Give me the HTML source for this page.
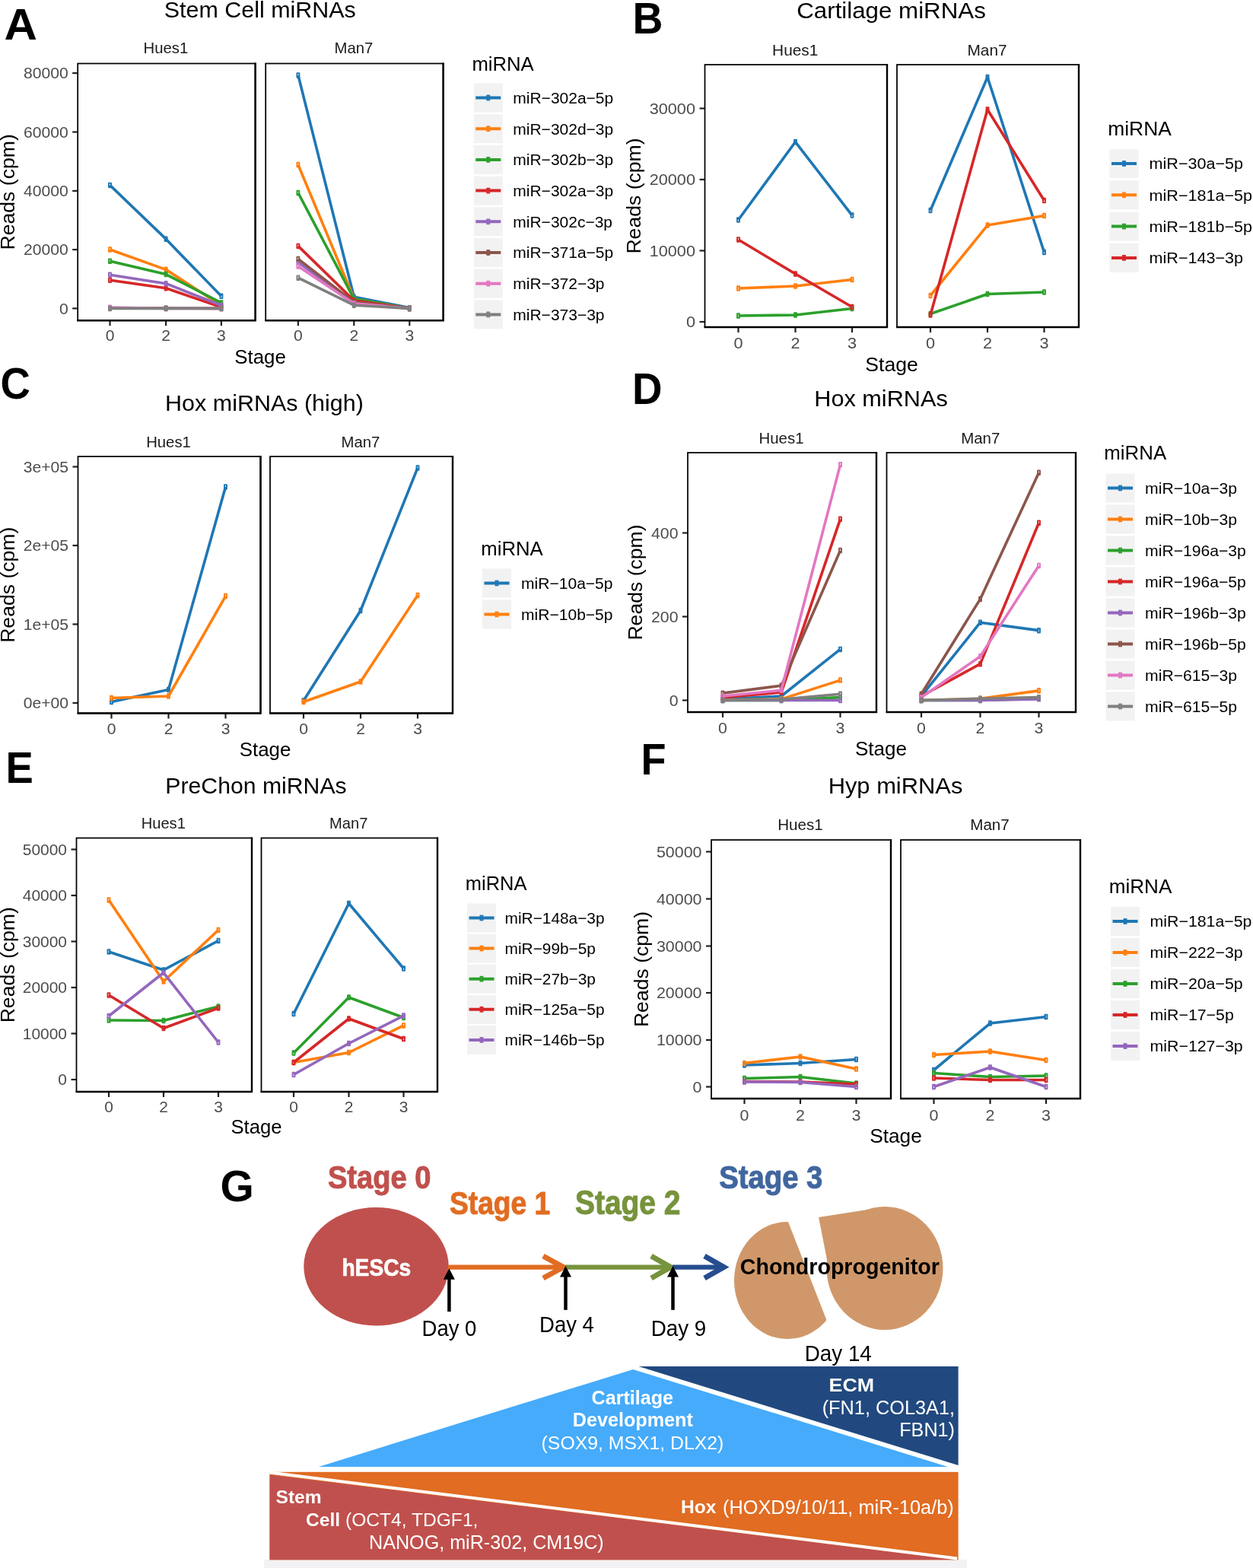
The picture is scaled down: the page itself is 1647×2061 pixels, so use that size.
<!DOCTYPE html>
<html><head><meta charset="utf-8"><title>Figure</title>
<style>html,body{margin:0;padding:0;background:#fff;}svg{display:block;}</style></head>
<body><svg width="1647" height="2061" viewBox="0 0 1647 2061" font-family='"Liberation Sans", Arial, Helvetica, sans-serif'>
<rect width="1647" height="2061" fill="#fff"/>
<text transform="translate(5.50,52.00) scale(1.055,1)" font-size="57" font-weight="bold" fill="#000">A</text>
<text transform="translate(341.80,23.00) scale(1.015,1)" font-size="30" text-anchor="middle" fill="#000">Stem Cell miRNAs</text>
<text transform="translate(217.90,70.30) scale(1.015,1)" font-size="20" text-anchor="middle" fill="#1a1a1a">Hues1</text>
<line x1="95.20" y1="96.10" x2="102.20" y2="96.10" stroke="#222" stroke-width="2.2"/>
<text transform="translate(89.70,103.40) scale(1.015,1)" font-size="20.8" text-anchor="end" fill="#4d4d4d">80000</text>
<line x1="95.20" y1="173.50" x2="102.20" y2="173.50" stroke="#222" stroke-width="2.2"/>
<text transform="translate(89.70,180.80) scale(1.015,1)" font-size="20.8" text-anchor="end" fill="#4d4d4d">60000</text>
<line x1="95.20" y1="250.90" x2="102.20" y2="250.90" stroke="#222" stroke-width="2.2"/>
<text transform="translate(89.70,258.20) scale(1.015,1)" font-size="20.8" text-anchor="end" fill="#4d4d4d">40000</text>
<line x1="95.20" y1="328.10" x2="102.20" y2="328.10" stroke="#222" stroke-width="2.2"/>
<text transform="translate(89.70,335.40) scale(1.015,1)" font-size="20.8" text-anchor="end" fill="#4d4d4d">20000</text>
<line x1="95.20" y1="405.40" x2="102.20" y2="405.40" stroke="#222" stroke-width="2.2"/>
<text transform="translate(89.70,412.70) scale(1.015,1)" font-size="20.8" text-anchor="end" fill="#4d4d4d">0</text>
<line x1="144.50" y1="421.20" x2="144.50" y2="428.20" stroke="#222" stroke-width="2.2"/>
<text transform="translate(144.50,447.50) scale(1.015,1)" font-size="20.8" text-anchor="middle" fill="#4d4d4d">0</text>
<line x1="218.10" y1="421.20" x2="218.10" y2="428.20" stroke="#222" stroke-width="2.2"/>
<text transform="translate(218.10,447.50) scale(1.015,1)" font-size="20.8" text-anchor="middle" fill="#4d4d4d">2</text>
<line x1="290.90" y1="421.20" x2="290.90" y2="428.20" stroke="#222" stroke-width="2.2"/>
<text transform="translate(290.90,447.50) scale(1.015,1)" font-size="20.8" text-anchor="middle" fill="#4d4d4d">3</text>
<g fill="none" stroke-width="3.6" stroke-linejoin="round">
<polyline points="144.50,243.40 218.10,314.16 290.90,389.32" stroke="#1f77b4"/>
<rect x="143.00" y="240.60" width="3.0" height="5.6" stroke="#1f77b4" stroke-width="1.9"/>
<rect x="216.60" y="311.36" width="3.0" height="5.6" stroke="#1f77b4" stroke-width="1.9"/>
<rect x="289.40" y="386.52" width="3.0" height="5.6" stroke="#1f77b4" stroke-width="1.9"/>
<polyline points="144.50,328.07 218.10,354.37 290.90,401.53" stroke="#ff7f0e"/>
<rect x="143.00" y="325.27" width="3.0" height="5.6" stroke="#ff7f0e" stroke-width="1.9"/>
<rect x="216.60" y="351.57" width="3.0" height="5.6" stroke="#ff7f0e" stroke-width="1.9"/>
<rect x="289.40" y="398.73" width="3.0" height="5.6" stroke="#ff7f0e" stroke-width="1.9"/>
<polyline points="144.50,343.15 218.10,360.55 290.90,398.05" stroke="#2ca02c"/>
<rect x="143.00" y="340.35" width="3.0" height="5.6" stroke="#2ca02c" stroke-width="1.9"/>
<rect x="216.60" y="357.75" width="3.0" height="5.6" stroke="#2ca02c" stroke-width="1.9"/>
<rect x="289.40" y="395.25" width="3.0" height="5.6" stroke="#2ca02c" stroke-width="1.9"/>
<polyline points="144.50,368.28 218.10,378.72 290.90,403.85" stroke="#d62728"/>
<rect x="143.00" y="365.48" width="3.0" height="5.6" stroke="#d62728" stroke-width="1.9"/>
<rect x="216.60" y="375.92" width="3.0" height="5.6" stroke="#d62728" stroke-width="1.9"/>
<rect x="289.40" y="401.05" width="3.0" height="5.6" stroke="#d62728" stroke-width="1.9"/>
<polyline points="144.50,361.32 218.10,372.69 290.90,401.53" stroke="#9467bd"/>
<rect x="143.00" y="358.52" width="3.0" height="5.6" stroke="#9467bd" stroke-width="1.9"/>
<rect x="216.60" y="369.89" width="3.0" height="5.6" stroke="#9467bd" stroke-width="1.9"/>
<rect x="289.40" y="398.73" width="3.0" height="5.6" stroke="#9467bd" stroke-width="1.9"/>
<polyline points="144.50,404.63 218.10,405.01 290.90,405.40" stroke="#8c564b"/>
<rect x="143.00" y="401.83" width="3.0" height="5.6" stroke="#8c564b" stroke-width="1.9"/>
<rect x="216.60" y="402.21" width="3.0" height="5.6" stroke="#8c564b" stroke-width="1.9"/>
<rect x="289.40" y="402.60" width="3.0" height="5.6" stroke="#8c564b" stroke-width="1.9"/>
<polyline points="144.50,404.24 218.10,405.40 290.90,405.40" stroke="#e377c2"/>
<rect x="143.00" y="401.44" width="3.0" height="5.6" stroke="#e377c2" stroke-width="1.9"/>
<rect x="216.60" y="402.60" width="3.0" height="5.6" stroke="#e377c2" stroke-width="1.9"/>
<rect x="289.40" y="402.60" width="3.0" height="5.6" stroke="#e377c2" stroke-width="1.9"/>
<polyline points="144.50,405.40 218.10,405.40 290.90,405.40" stroke="#7f7f7f"/>
<rect x="143.00" y="402.60" width="3.0" height="5.6" stroke="#7f7f7f" stroke-width="1.9"/>
<rect x="216.60" y="402.60" width="3.0" height="5.6" stroke="#7f7f7f" stroke-width="1.9"/>
<rect x="289.40" y="402.60" width="3.0" height="5.6" stroke="#7f7f7f" stroke-width="1.9"/>
</g>
<rect x="102.20" y="83.50" width="233.40" height="337.70" fill="none" stroke="#000" stroke-width="1.75"/>
<path d="M335.60,82.60 V421.20 H101.30" fill="none" stroke="#000" stroke-width="2.4"/>
<text transform="translate(464.90,70.30) scale(1.015,1)" font-size="20" text-anchor="middle" fill="#1a1a1a">Man7</text>
<line x1="391.90" y1="421.20" x2="391.90" y2="428.20" stroke="#222" stroke-width="2.2"/>
<text transform="translate(391.90,447.50) scale(1.015,1)" font-size="20.8" text-anchor="middle" fill="#4d4d4d">0</text>
<line x1="465.30" y1="421.20" x2="465.30" y2="428.20" stroke="#222" stroke-width="2.2"/>
<text transform="translate(465.30,447.50) scale(1.015,1)" font-size="20.8" text-anchor="middle" fill="#4d4d4d">2</text>
<line x1="538.30" y1="421.20" x2="538.30" y2="428.20" stroke="#222" stroke-width="2.2"/>
<text transform="translate(538.30,447.50) scale(1.015,1)" font-size="20.8" text-anchor="middle" fill="#4d4d4d">3</text>
<g fill="none" stroke-width="3.6" stroke-linejoin="round">
<polyline points="391.90,98.88 465.30,390.21 538.30,404.63" stroke="#1f77b4"/>
<rect x="390.40" y="96.08" width="3.0" height="5.6" stroke="#1f77b4" stroke-width="1.9"/>
<rect x="463.80" y="387.41" width="3.0" height="5.6" stroke="#1f77b4" stroke-width="1.9"/>
<rect x="536.80" y="401.83" width="3.0" height="5.6" stroke="#1f77b4" stroke-width="1.9"/>
<polyline points="391.90,216.57 465.30,392.80 538.30,405.40" stroke="#ff7f0e"/>
<rect x="390.40" y="213.77" width="3.0" height="5.6" stroke="#ff7f0e" stroke-width="1.9"/>
<rect x="463.80" y="390.00" width="3.0" height="5.6" stroke="#ff7f0e" stroke-width="1.9"/>
<rect x="536.80" y="402.60" width="3.0" height="5.6" stroke="#ff7f0e" stroke-width="1.9"/>
<polyline points="391.90,253.50 465.30,392.80 538.30,405.40" stroke="#2ca02c"/>
<rect x="390.40" y="250.70" width="3.0" height="5.6" stroke="#2ca02c" stroke-width="1.9"/>
<rect x="463.80" y="390.00" width="3.0" height="5.6" stroke="#2ca02c" stroke-width="1.9"/>
<rect x="536.80" y="402.60" width="3.0" height="5.6" stroke="#2ca02c" stroke-width="1.9"/>
<polyline points="391.90,323.40 465.30,395.00 538.30,405.40" stroke="#d62728"/>
<rect x="390.40" y="320.60" width="3.0" height="5.6" stroke="#d62728" stroke-width="1.9"/>
<rect x="463.80" y="392.20" width="3.0" height="5.6" stroke="#d62728" stroke-width="1.9"/>
<rect x="536.80" y="402.60" width="3.0" height="5.6" stroke="#d62728" stroke-width="1.9"/>
<polyline points="391.90,344.70 465.30,397.67 538.30,405.40" stroke="#9467bd"/>
<rect x="390.40" y="341.90" width="3.0" height="5.6" stroke="#9467bd" stroke-width="1.9"/>
<rect x="463.80" y="394.87" width="3.0" height="5.6" stroke="#9467bd" stroke-width="1.9"/>
<rect x="536.80" y="402.60" width="3.0" height="5.6" stroke="#9467bd" stroke-width="1.9"/>
<polyline points="391.90,340.41 465.30,397.09 538.30,405.40" stroke="#8c564b"/>
<rect x="390.40" y="337.61" width="3.0" height="5.6" stroke="#8c564b" stroke-width="1.9"/>
<rect x="463.80" y="394.29" width="3.0" height="5.6" stroke="#8c564b" stroke-width="1.9"/>
<rect x="536.80" y="402.60" width="3.0" height="5.6" stroke="#8c564b" stroke-width="1.9"/>
<polyline points="391.90,350.00 465.30,398.90 538.30,405.40" stroke="#e377c2"/>
<rect x="390.40" y="347.20" width="3.0" height="5.6" stroke="#e377c2" stroke-width="1.9"/>
<rect x="463.80" y="396.10" width="3.0" height="5.6" stroke="#e377c2" stroke-width="1.9"/>
<rect x="536.80" y="402.60" width="3.0" height="5.6" stroke="#e377c2" stroke-width="1.9"/>
<polyline points="391.90,365.19 465.30,401.19 538.30,405.40" stroke="#7f7f7f"/>
<rect x="390.40" y="362.39" width="3.0" height="5.6" stroke="#7f7f7f" stroke-width="1.9"/>
<rect x="463.80" y="398.39" width="3.0" height="5.6" stroke="#7f7f7f" stroke-width="1.9"/>
<rect x="536.80" y="402.60" width="3.0" height="5.6" stroke="#7f7f7f" stroke-width="1.9"/>
</g>
<rect x="349.20" y="83.50" width="233.40" height="337.70" fill="none" stroke="#000" stroke-width="1.75"/>
<path d="M582.60,82.60 V421.20 H348.30" fill="none" stroke="#000" stroke-width="2.4"/>
<text transform="translate(342.00,477.50) scale(1.015,1)" font-size="25.5" text-anchor="middle" fill="#000">Stage</text>
<text x="0" y="0" font-size="26.6" text-anchor="middle" transform="translate(19.00,252.35) rotate(-90) scale(1.0,1)">Reads (cpm)</text>
<text transform="translate(620.40,92.70) scale(1.015,1)" font-size="25.3" fill="#000">miRNA</text>
<rect x="622.75" y="109.50" width="38" height="38" fill="#f2f2f2"/>
<line x1="625.25" y1="128.50" x2="658.25" y2="128.50" stroke="#1f77b4" stroke-width="4"/>
<rect x="640.25" y="125.60" width="3.0" height="5.8" fill="none" stroke="#1f77b4" stroke-width="1.9"/>
<text transform="translate(674.30,135.90) scale(1.015,1)" font-size="20.7" fill="#000">miR−302a−5p</text>
<rect x="622.75" y="150.20" width="38" height="38" fill="#f2f2f2"/>
<line x1="625.25" y1="169.20" x2="658.25" y2="169.20" stroke="#ff7f0e" stroke-width="4"/>
<rect x="640.25" y="166.30" width="3.0" height="5.8" fill="none" stroke="#ff7f0e" stroke-width="1.9"/>
<text transform="translate(674.30,176.60) scale(1.015,1)" font-size="20.7" fill="#000">miR−302d−3p</text>
<rect x="622.75" y="190.90" width="38" height="38" fill="#f2f2f2"/>
<line x1="625.25" y1="209.90" x2="658.25" y2="209.90" stroke="#2ca02c" stroke-width="4"/>
<rect x="640.25" y="207.00" width="3.0" height="5.8" fill="none" stroke="#2ca02c" stroke-width="1.9"/>
<text transform="translate(674.30,217.30) scale(1.015,1)" font-size="20.7" fill="#000">miR−302b−3p</text>
<rect x="622.75" y="231.60" width="38" height="38" fill="#f2f2f2"/>
<line x1="625.25" y1="250.60" x2="658.25" y2="250.60" stroke="#d62728" stroke-width="4"/>
<rect x="640.25" y="247.70" width="3.0" height="5.8" fill="none" stroke="#d62728" stroke-width="1.9"/>
<text transform="translate(674.30,258.00) scale(1.015,1)" font-size="20.7" fill="#000">miR−302a−3p</text>
<rect x="622.75" y="272.30" width="38" height="38" fill="#f2f2f2"/>
<line x1="625.25" y1="291.30" x2="658.25" y2="291.30" stroke="#9467bd" stroke-width="4"/>
<rect x="640.25" y="288.40" width="3.0" height="5.8" fill="none" stroke="#9467bd" stroke-width="1.9"/>
<text transform="translate(674.30,298.70) scale(1.015,1)" font-size="20.7" fill="#000">miR−302c−3p</text>
<rect x="622.75" y="313.00" width="38" height="38" fill="#f2f2f2"/>
<line x1="625.25" y1="332.00" x2="658.25" y2="332.00" stroke="#8c564b" stroke-width="4"/>
<rect x="640.25" y="329.10" width="3.0" height="5.8" fill="none" stroke="#8c564b" stroke-width="1.9"/>
<text transform="translate(674.30,339.40) scale(1.015,1)" font-size="20.7" fill="#000">miR−371a−5p</text>
<rect x="622.75" y="353.70" width="38" height="38" fill="#f2f2f2"/>
<line x1="625.25" y1="372.70" x2="658.25" y2="372.70" stroke="#e377c2" stroke-width="4"/>
<rect x="640.25" y="369.80" width="3.0" height="5.8" fill="none" stroke="#e377c2" stroke-width="1.9"/>
<text transform="translate(674.30,380.10) scale(1.015,1)" font-size="20.7" fill="#000">miR−372−3p</text>
<rect x="622.75" y="394.40" width="38" height="38" fill="#f2f2f2"/>
<line x1="625.25" y1="413.40" x2="658.25" y2="413.40" stroke="#7f7f7f" stroke-width="4"/>
<rect x="640.25" y="410.50" width="3.0" height="5.8" fill="none" stroke="#7f7f7f" stroke-width="1.9"/>
<text transform="translate(674.30,420.80) scale(1.015,1)" font-size="20.7" fill="#000">miR−373−3p</text>
<text transform="translate(831.40,44.10) scale(0.97,1)" font-size="57" font-weight="bold" fill="#000">B</text>
<text transform="translate(1171.50,23.50) scale(1.043,1)" font-size="30" text-anchor="middle" fill="#000">Cartilage miRNAs</text>
<text transform="translate(1045.25,72.50) scale(1.043,1)" font-size="20" text-anchor="middle" fill="#1a1a1a">Hues1</text>
<line x1="919.50" y1="142.50" x2="926.50" y2="142.50" stroke="#222" stroke-width="2.2"/>
<text transform="translate(914.00,149.80) scale(1.043,1)" font-size="20.8" text-anchor="end" fill="#4d4d4d">30000</text>
<line x1="919.50" y1="236.00" x2="926.50" y2="236.00" stroke="#222" stroke-width="2.2"/>
<text transform="translate(914.00,243.30) scale(1.043,1)" font-size="20.8" text-anchor="end" fill="#4d4d4d">20000</text>
<line x1="919.50" y1="329.50" x2="926.50" y2="329.50" stroke="#222" stroke-width="2.2"/>
<text transform="translate(914.00,336.80) scale(1.043,1)" font-size="20.8" text-anchor="end" fill="#4d4d4d">10000</text>
<line x1="919.50" y1="423.00" x2="926.50" y2="423.00" stroke="#222" stroke-width="2.2"/>
<text transform="translate(914.00,430.30) scale(1.043,1)" font-size="20.8" text-anchor="end" fill="#4d4d4d">0</text>
<line x1="970.50" y1="430.00" x2="970.50" y2="437.00" stroke="#222" stroke-width="2.2"/>
<text transform="translate(970.50,457.50) scale(1.043,1)" font-size="20.8" text-anchor="middle" fill="#4d4d4d">0</text>
<line x1="1045.50" y1="430.00" x2="1045.50" y2="437.00" stroke="#222" stroke-width="2.2"/>
<text transform="translate(1045.50,457.50) scale(1.043,1)" font-size="20.8" text-anchor="middle" fill="#4d4d4d">2</text>
<line x1="1120.00" y1="430.00" x2="1120.00" y2="437.00" stroke="#222" stroke-width="2.2"/>
<text transform="translate(1120.00,457.50) scale(1.043,1)" font-size="20.8" text-anchor="middle" fill="#4d4d4d">3</text>
<g fill="none" stroke-width="3.6" stroke-linejoin="round">
<polyline points="970.50,289.01 1045.50,186.54 1120.00,283.03" stroke="#1f77b4"/>
<rect x="969.00" y="286.21" width="3.0" height="5.6" stroke="#1f77b4" stroke-width="1.9"/>
<rect x="1044.00" y="183.74" width="3.0" height="5.6" stroke="#1f77b4" stroke-width="1.9"/>
<rect x="1118.50" y="280.23" width="3.0" height="5.6" stroke="#1f77b4" stroke-width="1.9"/>
<polyline points="970.50,379.06 1045.50,375.97 1120.00,367.46" stroke="#ff7f0e"/>
<rect x="969.00" y="376.25" width="3.0" height="5.6" stroke="#ff7f0e" stroke-width="1.9"/>
<rect x="1044.00" y="373.17" width="3.0" height="5.6" stroke="#ff7f0e" stroke-width="1.9"/>
<rect x="1118.50" y="364.66" width="3.0" height="5.6" stroke="#ff7f0e" stroke-width="1.9"/>
<polyline points="970.50,414.96 1045.50,414.02 1120.00,405.52" stroke="#2ca02c"/>
<rect x="969.00" y="412.16" width="3.0" height="5.6" stroke="#2ca02c" stroke-width="1.9"/>
<rect x="1044.00" y="411.22" width="3.0" height="5.6" stroke="#2ca02c" stroke-width="1.9"/>
<rect x="1118.50" y="402.72" width="3.0" height="5.6" stroke="#2ca02c" stroke-width="1.9"/>
<polyline points="970.50,315.01 1045.50,359.98 1120.00,403.46" stroke="#d62728"/>
<rect x="969.00" y="312.21" width="3.0" height="5.6" stroke="#d62728" stroke-width="1.9"/>
<rect x="1044.00" y="357.18" width="3.0" height="5.6" stroke="#d62728" stroke-width="1.9"/>
<rect x="1118.50" y="400.66" width="3.0" height="5.6" stroke="#d62728" stroke-width="1.9"/>
</g>
<rect x="926.50" y="85.00" width="239.50" height="345.00" fill="none" stroke="#000" stroke-width="1.75"/>
<path d="M1166.00,84.10 V430.00 H925.60" fill="none" stroke="#000" stroke-width="2.4"/>
<text transform="translate(1297.50,72.50) scale(1.043,1)" font-size="20" text-anchor="middle" fill="#1a1a1a">Man7</text>
<line x1="1223.00" y1="430.00" x2="1223.00" y2="437.00" stroke="#222" stroke-width="2.2"/>
<text transform="translate(1223.00,457.50) scale(1.043,1)" font-size="20.8" text-anchor="middle" fill="#4d4d4d">0</text>
<line x1="1298.00" y1="430.00" x2="1298.00" y2="437.00" stroke="#222" stroke-width="2.2"/>
<text transform="translate(1298.00,457.50) scale(1.043,1)" font-size="20.8" text-anchor="middle" fill="#4d4d4d">2</text>
<line x1="1372.50" y1="430.00" x2="1372.50" y2="437.00" stroke="#222" stroke-width="2.2"/>
<text transform="translate(1372.50,457.50) scale(1.043,1)" font-size="20.8" text-anchor="middle" fill="#4d4d4d">3</text>
<g fill="none" stroke-width="3.6" stroke-linejoin="round">
<polyline points="1223.00,276.49 1298.00,101.45 1372.50,331.46" stroke="#1f77b4"/>
<rect x="1221.50" y="273.69" width="3.0" height="5.6" stroke="#1f77b4" stroke-width="1.9"/>
<rect x="1296.50" y="98.65" width="3.0" height="5.6" stroke="#1f77b4" stroke-width="1.9"/>
<rect x="1371.00" y="328.66" width="3.0" height="5.6" stroke="#1f77b4" stroke-width="1.9"/>
<polyline points="1223.00,388.50 1298.00,296.03 1372.50,283.50" stroke="#ff7f0e"/>
<rect x="1221.50" y="385.70" width="3.0" height="5.6" stroke="#ff7f0e" stroke-width="1.9"/>
<rect x="1296.50" y="293.23" width="3.0" height="5.6" stroke="#ff7f0e" stroke-width="1.9"/>
<rect x="1371.00" y="280.70" width="3.0" height="5.6" stroke="#ff7f0e" stroke-width="1.9"/>
<polyline points="1223.00,412.53 1298.00,386.53 1372.50,384.01" stroke="#2ca02c"/>
<rect x="1221.50" y="409.73" width="3.0" height="5.6" stroke="#2ca02c" stroke-width="1.9"/>
<rect x="1296.50" y="383.73" width="3.0" height="5.6" stroke="#2ca02c" stroke-width="1.9"/>
<rect x="1371.00" y="381.21" width="3.0" height="5.6" stroke="#2ca02c" stroke-width="1.9"/>
<polyline points="1223.00,414.02 1298.00,144.00 1372.50,263.49" stroke="#d62728"/>
<rect x="1221.50" y="411.22" width="3.0" height="5.6" stroke="#d62728" stroke-width="1.9"/>
<rect x="1296.50" y="141.20" width="3.0" height="5.6" stroke="#d62728" stroke-width="1.9"/>
<rect x="1371.00" y="260.69" width="3.0" height="5.6" stroke="#d62728" stroke-width="1.9"/>
</g>
<rect x="1179.00" y="85.00" width="239.00" height="345.00" fill="none" stroke="#000" stroke-width="1.75"/>
<path d="M1418.00,84.10 V430.00 H1178.10" fill="none" stroke="#000" stroke-width="2.4"/>
<text transform="translate(1172.00,487.50) scale(1.043,1)" font-size="25.5" text-anchor="middle" fill="#000">Stage</text>
<text x="0" y="0" font-size="26.6" text-anchor="middle" transform="translate(842.10,257.50) rotate(-90) scale(1.0,1)">Reads (cpm)</text>
<text transform="translate(1456.30,177.50) scale(1.043,1)" font-size="25.3" fill="#000">miRNA</text>
<rect x="1458.50" y="196.00" width="38" height="38" fill="#f2f2f2"/>
<line x1="1461.00" y1="215.00" x2="1494.00" y2="215.00" stroke="#1f77b4" stroke-width="4"/>
<rect x="1476.00" y="212.10" width="3.0" height="5.8" fill="none" stroke="#1f77b4" stroke-width="1.9"/>
<text transform="translate(1510.60,222.40) scale(1.043,1)" font-size="20.7" fill="#000">miR−30a−5p</text>
<rect x="1458.50" y="237.30" width="38" height="38" fill="#f2f2f2"/>
<line x1="1461.00" y1="256.30" x2="1494.00" y2="256.30" stroke="#ff7f0e" stroke-width="4"/>
<rect x="1476.00" y="253.40" width="3.0" height="5.8" fill="none" stroke="#ff7f0e" stroke-width="1.9"/>
<text transform="translate(1510.60,263.70) scale(1.043,1)" font-size="20.7" fill="#000">miR−181a−5p</text>
<rect x="1458.50" y="278.60" width="38" height="38" fill="#f2f2f2"/>
<line x1="1461.00" y1="297.60" x2="1494.00" y2="297.60" stroke="#2ca02c" stroke-width="4"/>
<rect x="1476.00" y="294.70" width="3.0" height="5.8" fill="none" stroke="#2ca02c" stroke-width="1.9"/>
<text transform="translate(1510.60,305.00) scale(1.043,1)" font-size="20.7" fill="#000">miR−181b−5p</text>
<rect x="1458.50" y="319.90" width="38" height="38" fill="#f2f2f2"/>
<line x1="1461.00" y1="338.90" x2="1494.00" y2="338.90" stroke="#d62728" stroke-width="4"/>
<rect x="1476.00" y="336.00" width="3.0" height="5.8" fill="none" stroke="#d62728" stroke-width="1.9"/>
<text transform="translate(1510.60,346.30) scale(1.043,1)" font-size="20.7" fill="#000">miR−143−3p</text>
<text transform="translate(0.60,524.30) scale(0.955,1)" font-size="57" font-weight="bold" fill="#000">C</text>
<text transform="translate(347.50,540.00) scale(1.016,1)" font-size="30" text-anchor="middle" fill="#000">Hox miRNAs (high)</text>
<text transform="translate(221.50,587.50) scale(1.016,1)" font-size="20" text-anchor="middle" fill="#1a1a1a">Hues1</text>
<line x1="95.50" y1="613.50" x2="102.50" y2="613.50" stroke="#222" stroke-width="2.2"/>
<text transform="translate(90.00,620.80) scale(1.016,1)" font-size="20.8" text-anchor="end" fill="#4d4d4d">3e+05</text>
<line x1="95.50" y1="717.00" x2="102.50" y2="717.00" stroke="#222" stroke-width="2.2"/>
<text transform="translate(90.00,724.30) scale(1.016,1)" font-size="20.8" text-anchor="end" fill="#4d4d4d">2e+05</text>
<line x1="95.50" y1="820.50" x2="102.50" y2="820.50" stroke="#222" stroke-width="2.2"/>
<text transform="translate(90.00,827.80) scale(1.016,1)" font-size="20.8" text-anchor="end" fill="#4d4d4d">1e+05</text>
<line x1="95.50" y1="924.00" x2="102.50" y2="924.00" stroke="#222" stroke-width="2.2"/>
<text transform="translate(90.00,931.30) scale(1.016,1)" font-size="20.8" text-anchor="end" fill="#4d4d4d">0e+00</text>
<line x1="146.50" y1="937.50" x2="146.50" y2="944.50" stroke="#222" stroke-width="2.2"/>
<text transform="translate(146.50,965.00) scale(1.016,1)" font-size="20.8" text-anchor="middle" fill="#4d4d4d">0</text>
<line x1="221.50" y1="937.50" x2="221.50" y2="944.50" stroke="#222" stroke-width="2.2"/>
<text transform="translate(221.50,965.00) scale(1.016,1)" font-size="20.8" text-anchor="middle" fill="#4d4d4d">2</text>
<line x1="296.50" y1="937.50" x2="296.50" y2="944.50" stroke="#222" stroke-width="2.2"/>
<text transform="translate(296.50,965.00) scale(1.016,1)" font-size="20.8" text-anchor="middle" fill="#4d4d4d">3</text>
<g fill="none" stroke-width="3.6" stroke-linejoin="round">
<polyline points="146.50,922.50 221.50,906.51 296.50,640.00" stroke="#1f77b4"/>
<rect x="145.00" y="919.70" width="3.0" height="5.6" stroke="#1f77b4" stroke-width="1.9"/>
<rect x="220.00" y="903.71" width="3.0" height="5.6" stroke="#1f77b4" stroke-width="1.9"/>
<rect x="295.00" y="637.20" width="3.0" height="5.6" stroke="#1f77b4" stroke-width="1.9"/>
<polyline points="146.50,917.48 221.50,915.00 296.50,783.55" stroke="#ff7f0e"/>
<rect x="145.00" y="914.68" width="3.0" height="5.6" stroke="#ff7f0e" stroke-width="1.9"/>
<rect x="220.00" y="912.20" width="3.0" height="5.6" stroke="#ff7f0e" stroke-width="1.9"/>
<rect x="295.00" y="780.75" width="3.0" height="5.6" stroke="#ff7f0e" stroke-width="1.9"/>
</g>
<rect x="102.50" y="600.00" width="240.00" height="337.50" fill="none" stroke="#000" stroke-width="1.75"/>
<path d="M342.50,599.10 V937.50 H101.60" fill="none" stroke="#000" stroke-width="2.4"/>
<text transform="translate(474.00,587.50) scale(1.016,1)" font-size="20" text-anchor="middle" fill="#1a1a1a">Man7</text>
<line x1="399.00" y1="937.50" x2="399.00" y2="944.50" stroke="#222" stroke-width="2.2"/>
<text transform="translate(399.00,965.00) scale(1.016,1)" font-size="20.8" text-anchor="middle" fill="#4d4d4d">0</text>
<line x1="474.00" y1="937.50" x2="474.00" y2="944.50" stroke="#222" stroke-width="2.2"/>
<text transform="translate(474.00,965.00) scale(1.016,1)" font-size="20.8" text-anchor="middle" fill="#4d4d4d">2</text>
<line x1="549.00" y1="937.50" x2="549.00" y2="944.50" stroke="#222" stroke-width="2.2"/>
<text transform="translate(549.00,965.00) scale(1.016,1)" font-size="20.8" text-anchor="middle" fill="#4d4d4d">3</text>
<g fill="none" stroke-width="3.6" stroke-linejoin="round">
<polyline points="399.00,921.00 474.00,802.49 549.00,614.95" stroke="#1f77b4"/>
<rect x="397.50" y="918.20" width="3.0" height="5.6" stroke="#1f77b4" stroke-width="1.9"/>
<rect x="472.50" y="799.69" width="3.0" height="5.6" stroke="#1f77b4" stroke-width="1.9"/>
<rect x="547.50" y="612.15" width="3.0" height="5.6" stroke="#1f77b4" stroke-width="1.9"/>
<polyline points="399.00,922.50 474.00,896.05 549.00,782.52" stroke="#ff7f0e"/>
<rect x="397.50" y="919.70" width="3.0" height="5.6" stroke="#ff7f0e" stroke-width="1.9"/>
<rect x="472.50" y="893.25" width="3.0" height="5.6" stroke="#ff7f0e" stroke-width="1.9"/>
<rect x="547.50" y="779.72" width="3.0" height="5.6" stroke="#ff7f0e" stroke-width="1.9"/>
</g>
<rect x="355.00" y="600.00" width="240.00" height="337.50" fill="none" stroke="#000" stroke-width="1.75"/>
<path d="M595.00,599.10 V937.50 H354.10" fill="none" stroke="#000" stroke-width="2.4"/>
<text transform="translate(348.50,993.50) scale(1.016,1)" font-size="25.5" text-anchor="middle" fill="#000">Stage</text>
<text x="0" y="0" font-size="26.6" text-anchor="middle" transform="translate(19.00,768.75) rotate(-90) scale(1.0,1)">Reads (cpm)</text>
<text transform="translate(632.30,730.00) scale(1.016,1)" font-size="25.3" fill="#000">miRNA</text>
<rect x="634.00" y="747.50" width="38" height="38" fill="#f2f2f2"/>
<line x1="636.50" y1="766.50" x2="669.50" y2="766.50" stroke="#1f77b4" stroke-width="4"/>
<rect x="651.50" y="763.60" width="3.0" height="5.8" fill="none" stroke="#1f77b4" stroke-width="1.9"/>
<text transform="translate(685.10,773.90) scale(1.016,1)" font-size="20.7" fill="#000">miR−10a−5p</text>
<rect x="634.00" y="788.50" width="38" height="38" fill="#f2f2f2"/>
<line x1="636.50" y1="807.50" x2="669.50" y2="807.50" stroke="#ff7f0e" stroke-width="4"/>
<rect x="651.50" y="804.60" width="3.0" height="5.8" fill="none" stroke="#ff7f0e" stroke-width="1.9"/>
<text transform="translate(685.10,814.90) scale(1.016,1)" font-size="20.7" fill="#000">miR−10b−5p</text>
<text transform="translate(831.10,530.50) scale(0.96,1)" font-size="57" font-weight="bold" fill="#000">D</text>
<text transform="translate(1158.00,533.50) scale(1.022,1)" font-size="30" text-anchor="middle" fill="#000">Hox miRNAs</text>
<text transform="translate(1027.00,582.50) scale(1.022,1)" font-size="20" text-anchor="middle" fill="#1a1a1a">Hues1</text>
<line x1="897.00" y1="700.50" x2="904.00" y2="700.50" stroke="#222" stroke-width="2.2"/>
<text transform="translate(891.50,707.80) scale(1.022,1)" font-size="20.8" text-anchor="end" fill="#4d4d4d">400</text>
<line x1="897.00" y1="810.50" x2="904.00" y2="810.50" stroke="#222" stroke-width="2.2"/>
<text transform="translate(891.50,817.80) scale(1.022,1)" font-size="20.8" text-anchor="end" fill="#4d4d4d">200</text>
<line x1="897.00" y1="920.50" x2="904.00" y2="920.50" stroke="#222" stroke-width="2.2"/>
<text transform="translate(891.50,927.80) scale(1.022,1)" font-size="20.8" text-anchor="end" fill="#4d4d4d">0</text>
<line x1="950.00" y1="936.00" x2="950.00" y2="943.00" stroke="#222" stroke-width="2.2"/>
<text transform="translate(950.00,964.00) scale(1.022,1)" font-size="20.8" text-anchor="middle" fill="#4d4d4d">0</text>
<line x1="1027.00" y1="936.00" x2="1027.00" y2="943.00" stroke="#222" stroke-width="2.2"/>
<text transform="translate(1027.00,964.00) scale(1.022,1)" font-size="20.8" text-anchor="middle" fill="#4d4d4d">2</text>
<line x1="1104.50" y1="936.00" x2="1104.50" y2="943.00" stroke="#222" stroke-width="2.2"/>
<text transform="translate(1104.50,964.00) scale(1.022,1)" font-size="20.8" text-anchor="middle" fill="#4d4d4d">3</text>
<g fill="none" stroke-width="3.6" stroke-linejoin="round">
<polyline points="950.00,918.85 1027.00,915.00 1104.50,853.40" stroke="#1f77b4"/>
<rect x="948.50" y="916.05" width="3.0" height="5.6" stroke="#1f77b4" stroke-width="1.9"/>
<rect x="1025.50" y="912.20" width="3.0" height="5.6" stroke="#1f77b4" stroke-width="1.9"/>
<rect x="1103.00" y="850.60" width="3.0" height="5.6" stroke="#1f77b4" stroke-width="1.9"/>
<polyline points="950.00,919.95 1027.00,918.85 1104.50,894.10" stroke="#ff7f0e"/>
<rect x="948.50" y="917.15" width="3.0" height="5.6" stroke="#ff7f0e" stroke-width="1.9"/>
<rect x="1025.50" y="916.05" width="3.0" height="5.6" stroke="#ff7f0e" stroke-width="1.9"/>
<rect x="1103.00" y="891.30" width="3.0" height="5.6" stroke="#ff7f0e" stroke-width="1.9"/>
<polyline points="950.00,920.50 1027.00,920.50 1104.50,916.65" stroke="#2ca02c"/>
<rect x="948.50" y="917.70" width="3.0" height="5.6" stroke="#2ca02c" stroke-width="1.9"/>
<rect x="1025.50" y="917.70" width="3.0" height="5.6" stroke="#2ca02c" stroke-width="1.9"/>
<rect x="1103.00" y="913.85" width="3.0" height="5.6" stroke="#2ca02c" stroke-width="1.9"/>
<polyline points="950.00,916.65 1027.00,910.05 1104.50,682.35" stroke="#d62728"/>
<rect x="948.50" y="913.85" width="3.0" height="5.6" stroke="#d62728" stroke-width="1.9"/>
<rect x="1025.50" y="907.25" width="3.0" height="5.6" stroke="#d62728" stroke-width="1.9"/>
<rect x="1103.00" y="679.55" width="3.0" height="5.6" stroke="#d62728" stroke-width="1.9"/>
<polyline points="950.00,920.50 1027.00,920.50 1104.50,920.50" stroke="#9467bd"/>
<rect x="948.50" y="917.70" width="3.0" height="5.6" stroke="#9467bd" stroke-width="1.9"/>
<rect x="1025.50" y="917.70" width="3.0" height="5.6" stroke="#9467bd" stroke-width="1.9"/>
<rect x="1103.00" y="917.70" width="3.0" height="5.6" stroke="#9467bd" stroke-width="1.9"/>
<polyline points="950.00,911.15 1027.00,901.25 1104.50,723.60" stroke="#8c564b"/>
<rect x="948.50" y="908.35" width="3.0" height="5.6" stroke="#8c564b" stroke-width="1.9"/>
<rect x="1025.50" y="898.45" width="3.0" height="5.6" stroke="#8c564b" stroke-width="1.9"/>
<rect x="1103.00" y="720.80" width="3.0" height="5.6" stroke="#8c564b" stroke-width="1.9"/>
<polyline points="950.00,915.00 1027.00,907.30 1104.50,610.85" stroke="#e377c2"/>
<rect x="948.50" y="912.20" width="3.0" height="5.6" stroke="#e377c2" stroke-width="1.9"/>
<rect x="1025.50" y="904.50" width="3.0" height="5.6" stroke="#e377c2" stroke-width="1.9"/>
<rect x="1103.00" y="608.05" width="3.0" height="5.6" stroke="#e377c2" stroke-width="1.9"/>
<polyline points="950.00,920.50 1027.00,919.40 1104.50,912.25" stroke="#7f7f7f"/>
<rect x="948.50" y="917.70" width="3.0" height="5.6" stroke="#7f7f7f" stroke-width="1.9"/>
<rect x="1025.50" y="916.60" width="3.0" height="5.6" stroke="#7f7f7f" stroke-width="1.9"/>
<rect x="1103.00" y="909.45" width="3.0" height="5.6" stroke="#7f7f7f" stroke-width="1.9"/>
</g>
<rect x="904.00" y="595.00" width="248.00" height="341.00" fill="none" stroke="#000" stroke-width="1.75"/>
<path d="M1152.00,594.10 V936.00 H903.10" fill="none" stroke="#000" stroke-width="2.4"/>
<text transform="translate(1288.75,582.50) scale(1.022,1)" font-size="20" text-anchor="middle" fill="#1a1a1a">Man7</text>
<line x1="1211.00" y1="936.00" x2="1211.00" y2="943.00" stroke="#222" stroke-width="2.2"/>
<text transform="translate(1211.00,964.00) scale(1.022,1)" font-size="20.8" text-anchor="middle" fill="#4d4d4d">0</text>
<line x1="1288.50" y1="936.00" x2="1288.50" y2="943.00" stroke="#222" stroke-width="2.2"/>
<text transform="translate(1288.50,964.00) scale(1.022,1)" font-size="20.8" text-anchor="middle" fill="#4d4d4d">2</text>
<line x1="1365.50" y1="936.00" x2="1365.50" y2="943.00" stroke="#222" stroke-width="2.2"/>
<text transform="translate(1365.50,964.00) scale(1.022,1)" font-size="20.8" text-anchor="middle" fill="#4d4d4d">3</text>
<g fill="none" stroke-width="3.6" stroke-linejoin="round">
<polyline points="1211.00,915.00 1288.50,818.20 1365.50,828.65" stroke="#1f77b4"/>
<rect x="1209.50" y="912.20" width="3.0" height="5.6" stroke="#1f77b4" stroke-width="1.9"/>
<rect x="1287.00" y="815.40" width="3.0" height="5.6" stroke="#1f77b4" stroke-width="1.9"/>
<rect x="1364.00" y="825.85" width="3.0" height="5.6" stroke="#1f77b4" stroke-width="1.9"/>
<polyline points="1211.00,920.50 1288.50,918.30 1365.50,907.85" stroke="#ff7f0e"/>
<rect x="1209.50" y="917.70" width="3.0" height="5.6" stroke="#ff7f0e" stroke-width="1.9"/>
<rect x="1287.00" y="915.50" width="3.0" height="5.6" stroke="#ff7f0e" stroke-width="1.9"/>
<rect x="1364.00" y="905.05" width="3.0" height="5.6" stroke="#ff7f0e" stroke-width="1.9"/>
<polyline points="1211.00,920.50 1288.50,920.50 1365.50,918.30" stroke="#2ca02c"/>
<rect x="1209.50" y="917.70" width="3.0" height="5.6" stroke="#2ca02c" stroke-width="1.9"/>
<rect x="1287.00" y="917.70" width="3.0" height="5.6" stroke="#2ca02c" stroke-width="1.9"/>
<rect x="1364.00" y="915.50" width="3.0" height="5.6" stroke="#2ca02c" stroke-width="1.9"/>
<polyline points="1211.00,915.00 1288.50,872.65 1365.50,687.30" stroke="#d62728"/>
<rect x="1209.50" y="912.20" width="3.0" height="5.6" stroke="#d62728" stroke-width="1.9"/>
<rect x="1287.00" y="869.85" width="3.0" height="5.6" stroke="#d62728" stroke-width="1.9"/>
<rect x="1364.00" y="684.50" width="3.0" height="5.6" stroke="#d62728" stroke-width="1.9"/>
<polyline points="1211.00,920.50 1288.50,920.50 1365.50,918.85" stroke="#9467bd"/>
<rect x="1209.50" y="917.70" width="3.0" height="5.6" stroke="#9467bd" stroke-width="1.9"/>
<rect x="1287.00" y="917.70" width="3.0" height="5.6" stroke="#9467bd" stroke-width="1.9"/>
<rect x="1364.00" y="916.05" width="3.0" height="5.6" stroke="#9467bd" stroke-width="1.9"/>
<polyline points="1211.00,912.25 1288.50,787.40 1365.50,621.30" stroke="#8c564b"/>
<rect x="1209.50" y="909.45" width="3.0" height="5.6" stroke="#8c564b" stroke-width="1.9"/>
<rect x="1287.00" y="784.60" width="3.0" height="5.6" stroke="#8c564b" stroke-width="1.9"/>
<rect x="1364.00" y="618.50" width="3.0" height="5.6" stroke="#8c564b" stroke-width="1.9"/>
<polyline points="1211.00,916.65 1288.50,862.75 1365.50,743.40" stroke="#e377c2"/>
<rect x="1209.50" y="913.85" width="3.0" height="5.6" stroke="#e377c2" stroke-width="1.9"/>
<rect x="1287.00" y="859.95" width="3.0" height="5.6" stroke="#e377c2" stroke-width="1.9"/>
<rect x="1364.00" y="740.60" width="3.0" height="5.6" stroke="#e377c2" stroke-width="1.9"/>
<polyline points="1211.00,920.50 1288.50,918.30 1365.50,916.65" stroke="#7f7f7f"/>
<rect x="1209.50" y="917.70" width="3.0" height="5.6" stroke="#7f7f7f" stroke-width="1.9"/>
<rect x="1287.00" y="915.50" width="3.0" height="5.6" stroke="#7f7f7f" stroke-width="1.9"/>
<rect x="1364.00" y="913.85" width="3.0" height="5.6" stroke="#7f7f7f" stroke-width="1.9"/>
</g>
<rect x="1165.50" y="595.00" width="248.50" height="341.00" fill="none" stroke="#000" stroke-width="1.75"/>
<path d="M1414.00,594.10 V936.00 H1164.60" fill="none" stroke="#000" stroke-width="2.4"/>
<text transform="translate(1158.00,992.50) scale(1.022,1)" font-size="25.5" text-anchor="middle" fill="#000">Stage</text>
<text x="0" y="0" font-size="26.6" text-anchor="middle" transform="translate(843.70,765.50) rotate(-90) scale(1.0,1)">Reads (cpm)</text>
<text transform="translate(1451.30,603.50) scale(1.022,1)" font-size="25.3" fill="#000">miRNA</text>
<rect x="1453.50" y="622.50" width="38" height="38" fill="#f2f2f2"/>
<line x1="1456.00" y1="641.50" x2="1489.00" y2="641.50" stroke="#1f77b4" stroke-width="4"/>
<rect x="1471.00" y="638.60" width="3.0" height="5.8" fill="none" stroke="#1f77b4" stroke-width="1.9"/>
<text transform="translate(1505.10,648.90) scale(1.022,1)" font-size="20.7" fill="#000">miR−10a−3p</text>
<rect x="1453.50" y="663.50" width="38" height="38" fill="#f2f2f2"/>
<line x1="1456.00" y1="682.50" x2="1489.00" y2="682.50" stroke="#ff7f0e" stroke-width="4"/>
<rect x="1471.00" y="679.60" width="3.0" height="5.8" fill="none" stroke="#ff7f0e" stroke-width="1.9"/>
<text transform="translate(1505.10,689.90) scale(1.022,1)" font-size="20.7" fill="#000">miR−10b−3p</text>
<rect x="1453.50" y="704.50" width="38" height="38" fill="#f2f2f2"/>
<line x1="1456.00" y1="723.50" x2="1489.00" y2="723.50" stroke="#2ca02c" stroke-width="4"/>
<rect x="1471.00" y="720.60" width="3.0" height="5.8" fill="none" stroke="#2ca02c" stroke-width="1.9"/>
<text transform="translate(1505.10,730.90) scale(1.022,1)" font-size="20.7" fill="#000">miR−196a−3p</text>
<rect x="1453.50" y="745.50" width="38" height="38" fill="#f2f2f2"/>
<line x1="1456.00" y1="764.50" x2="1489.00" y2="764.50" stroke="#d62728" stroke-width="4"/>
<rect x="1471.00" y="761.60" width="3.0" height="5.8" fill="none" stroke="#d62728" stroke-width="1.9"/>
<text transform="translate(1505.10,771.90) scale(1.022,1)" font-size="20.7" fill="#000">miR−196a−5p</text>
<rect x="1453.50" y="786.50" width="38" height="38" fill="#f2f2f2"/>
<line x1="1456.00" y1="805.50" x2="1489.00" y2="805.50" stroke="#9467bd" stroke-width="4"/>
<rect x="1471.00" y="802.60" width="3.0" height="5.8" fill="none" stroke="#9467bd" stroke-width="1.9"/>
<text transform="translate(1505.10,812.90) scale(1.022,1)" font-size="20.7" fill="#000">miR−196b−3p</text>
<rect x="1453.50" y="827.50" width="38" height="38" fill="#f2f2f2"/>
<line x1="1456.00" y1="846.50" x2="1489.00" y2="846.50" stroke="#8c564b" stroke-width="4"/>
<rect x="1471.00" y="843.60" width="3.0" height="5.8" fill="none" stroke="#8c564b" stroke-width="1.9"/>
<text transform="translate(1505.10,853.90) scale(1.022,1)" font-size="20.7" fill="#000">miR−196b−5p</text>
<rect x="1453.50" y="868.50" width="38" height="38" fill="#f2f2f2"/>
<line x1="1456.00" y1="887.50" x2="1489.00" y2="887.50" stroke="#e377c2" stroke-width="4"/>
<rect x="1471.00" y="884.60" width="3.0" height="5.8" fill="none" stroke="#e377c2" stroke-width="1.9"/>
<text transform="translate(1505.10,894.90) scale(1.022,1)" font-size="20.7" fill="#000">miR−615−3p</text>
<rect x="1453.50" y="909.50" width="38" height="38" fill="#f2f2f2"/>
<line x1="1456.00" y1="928.50" x2="1489.00" y2="928.50" stroke="#7f7f7f" stroke-width="4"/>
<rect x="1471.00" y="925.60" width="3.0" height="5.8" fill="none" stroke="#7f7f7f" stroke-width="1.9"/>
<text transform="translate(1505.10,935.90) scale(1.022,1)" font-size="20.7" fill="#000">miR−615−5p</text>
<text transform="translate(7.40,1029.30) scale(0.955,1)" font-size="57" font-weight="bold" fill="#000">E</text>
<text transform="translate(336.50,1042.50) scale(1.007,1)" font-size="30" text-anchor="middle" fill="#000">PreChon miRNAs</text>
<text transform="translate(214.75,1089.00) scale(1.007,1)" font-size="20" text-anchor="middle" fill="#1a1a1a">Hues1</text>
<line x1="93.50" y1="1116.50" x2="100.50" y2="1116.50" stroke="#222" stroke-width="2.2"/>
<text transform="translate(88.00,1123.80) scale(1.007,1)" font-size="20.8" text-anchor="end" fill="#4d4d4d">50000</text>
<line x1="93.50" y1="1177.00" x2="100.50" y2="1177.00" stroke="#222" stroke-width="2.2"/>
<text transform="translate(88.00,1184.30) scale(1.007,1)" font-size="20.8" text-anchor="end" fill="#4d4d4d">40000</text>
<line x1="93.50" y1="1237.50" x2="100.50" y2="1237.50" stroke="#222" stroke-width="2.2"/>
<text transform="translate(88.00,1244.80) scale(1.007,1)" font-size="20.8" text-anchor="end" fill="#4d4d4d">30000</text>
<line x1="93.50" y1="1298.00" x2="100.50" y2="1298.00" stroke="#222" stroke-width="2.2"/>
<text transform="translate(88.00,1305.30) scale(1.007,1)" font-size="20.8" text-anchor="end" fill="#4d4d4d">20000</text>
<line x1="93.50" y1="1358.50" x2="100.50" y2="1358.50" stroke="#222" stroke-width="2.2"/>
<text transform="translate(88.00,1365.80) scale(1.007,1)" font-size="20.8" text-anchor="end" fill="#4d4d4d">10000</text>
<line x1="93.50" y1="1419.00" x2="100.50" y2="1419.00" stroke="#222" stroke-width="2.2"/>
<text transform="translate(88.00,1426.30) scale(1.007,1)" font-size="20.8" text-anchor="end" fill="#4d4d4d">0</text>
<line x1="143.00" y1="1435.00" x2="143.00" y2="1442.00" stroke="#222" stroke-width="2.2"/>
<text transform="translate(143.00,1461.50) scale(1.007,1)" font-size="20.8" text-anchor="middle" fill="#4d4d4d">0</text>
<line x1="215.00" y1="1435.00" x2="215.00" y2="1442.00" stroke="#222" stroke-width="2.2"/>
<text transform="translate(215.00,1461.50) scale(1.007,1)" font-size="20.8" text-anchor="middle" fill="#4d4d4d">2</text>
<line x1="287.00" y1="1435.00" x2="287.00" y2="1442.00" stroke="#222" stroke-width="2.2"/>
<text transform="translate(287.00,1461.50) scale(1.007,1)" font-size="20.8" text-anchor="middle" fill="#4d4d4d">3</text>
<g fill="none" stroke-width="3.6" stroke-linejoin="round">
<polyline points="143.00,1250.99 215.00,1275.01 287.00,1236.47" stroke="#1f77b4"/>
<rect x="141.50" y="1248.19" width="3.0" height="5.6" stroke="#1f77b4" stroke-width="1.9"/>
<rect x="213.50" y="1272.21" width="3.0" height="5.6" stroke="#1f77b4" stroke-width="1.9"/>
<rect x="285.50" y="1233.67" width="3.0" height="5.6" stroke="#1f77b4" stroke-width="1.9"/>
<polyline points="143.00,1183.05 215.00,1290.01 287.00,1222.50" stroke="#ff7f0e"/>
<rect x="141.50" y="1180.25" width="3.0" height="5.6" stroke="#ff7f0e" stroke-width="1.9"/>
<rect x="213.50" y="1287.21" width="3.0" height="5.6" stroke="#ff7f0e" stroke-width="1.9"/>
<rect x="285.50" y="1219.70" width="3.0" height="5.6" stroke="#ff7f0e" stroke-width="1.9"/>
<polyline points="143.00,1341.02 215.00,1341.50 287.00,1322.99" stroke="#2ca02c"/>
<rect x="141.50" y="1338.22" width="3.0" height="5.6" stroke="#2ca02c" stroke-width="1.9"/>
<rect x="213.50" y="1338.70" width="3.0" height="5.6" stroke="#2ca02c" stroke-width="1.9"/>
<rect x="285.50" y="1320.19" width="3.0" height="5.6" stroke="#2ca02c" stroke-width="1.9"/>
<polyline points="143.00,1307.98 215.00,1351.48 287.00,1324.98" stroke="#d62728"/>
<rect x="141.50" y="1305.18" width="3.0" height="5.6" stroke="#d62728" stroke-width="1.9"/>
<rect x="213.50" y="1348.68" width="3.0" height="5.6" stroke="#d62728" stroke-width="1.9"/>
<rect x="285.50" y="1322.18" width="3.0" height="5.6" stroke="#d62728" stroke-width="1.9"/>
<polyline points="143.00,1335.51 215.00,1278.52 287.00,1369.99" stroke="#9467bd"/>
<rect x="141.50" y="1332.71" width="3.0" height="5.6" stroke="#9467bd" stroke-width="1.9"/>
<rect x="213.50" y="1275.72" width="3.0" height="5.6" stroke="#9467bd" stroke-width="1.9"/>
<rect x="285.50" y="1367.19" width="3.0" height="5.6" stroke="#9467bd" stroke-width="1.9"/>
</g>
<rect x="100.50" y="1101.50" width="230.50" height="333.50" fill="none" stroke="#000" stroke-width="1.75"/>
<path d="M331.00,1100.60 V1435.00 H99.60" fill="none" stroke="#000" stroke-width="2.4"/>
<text transform="translate(458.25,1089.00) scale(1.007,1)" font-size="20" text-anchor="middle" fill="#1a1a1a">Man7</text>
<line x1="386.00" y1="1435.00" x2="386.00" y2="1442.00" stroke="#222" stroke-width="2.2"/>
<text transform="translate(386.00,1461.50) scale(1.007,1)" font-size="20.8" text-anchor="middle" fill="#4d4d4d">0</text>
<line x1="458.50" y1="1435.00" x2="458.50" y2="1442.00" stroke="#222" stroke-width="2.2"/>
<text transform="translate(458.50,1461.50) scale(1.007,1)" font-size="20.8" text-anchor="middle" fill="#4d4d4d">2</text>
<line x1="530.50" y1="1435.00" x2="530.50" y2="1442.00" stroke="#222" stroke-width="2.2"/>
<text transform="translate(530.50,1461.50) scale(1.007,1)" font-size="20.8" text-anchor="middle" fill="#4d4d4d">3</text>
<g fill="none" stroke-width="3.6" stroke-linejoin="round">
<polyline points="386.00,1332.48 458.50,1187.53 530.50,1273.01" stroke="#1f77b4"/>
<rect x="384.50" y="1329.68" width="3.0" height="5.6" stroke="#1f77b4" stroke-width="1.9"/>
<rect x="457.00" y="1184.73" width="3.0" height="5.6" stroke="#1f77b4" stroke-width="1.9"/>
<rect x="529.00" y="1270.21" width="3.0" height="5.6" stroke="#1f77b4" stroke-width="1.9"/>
<polyline points="386.00,1396.49 458.50,1383.49 530.50,1347.97" stroke="#ff7f0e"/>
<rect x="384.50" y="1393.69" width="3.0" height="5.6" stroke="#ff7f0e" stroke-width="1.9"/>
<rect x="457.00" y="1380.69" width="3.0" height="5.6" stroke="#ff7f0e" stroke-width="1.9"/>
<rect x="529.00" y="1345.17" width="3.0" height="5.6" stroke="#ff7f0e" stroke-width="1.9"/>
<polyline points="386.00,1383.97 458.50,1311.01 530.50,1337.51" stroke="#2ca02c"/>
<rect x="384.50" y="1381.17" width="3.0" height="5.6" stroke="#2ca02c" stroke-width="1.9"/>
<rect x="457.00" y="1308.21" width="3.0" height="5.6" stroke="#2ca02c" stroke-width="1.9"/>
<rect x="529.00" y="1334.71" width="3.0" height="5.6" stroke="#2ca02c" stroke-width="1.9"/>
<polyline points="386.00,1396.49 458.50,1339.02 530.50,1365.52" stroke="#d62728"/>
<rect x="384.50" y="1393.69" width="3.0" height="5.6" stroke="#d62728" stroke-width="1.9"/>
<rect x="457.00" y="1336.22" width="3.0" height="5.6" stroke="#d62728" stroke-width="1.9"/>
<rect x="529.00" y="1362.72" width="3.0" height="5.6" stroke="#d62728" stroke-width="1.9"/>
<polyline points="386.00,1412.53 458.50,1371.51 530.50,1335.03" stroke="#9467bd"/>
<rect x="384.50" y="1409.73" width="3.0" height="5.6" stroke="#9467bd" stroke-width="1.9"/>
<rect x="457.00" y="1368.71" width="3.0" height="5.6" stroke="#9467bd" stroke-width="1.9"/>
<rect x="529.00" y="1332.23" width="3.0" height="5.6" stroke="#9467bd" stroke-width="1.9"/>
</g>
<rect x="343.50" y="1101.50" width="231.50" height="333.50" fill="none" stroke="#000" stroke-width="1.75"/>
<path d="M575.00,1100.60 V1435.00 H342.60" fill="none" stroke="#000" stroke-width="2.4"/>
<text transform="translate(337.00,1490.00) scale(1.007,1)" font-size="25.5" text-anchor="middle" fill="#000">Stage</text>
<text x="0" y="0" font-size="26.6" text-anchor="middle" transform="translate(18.60,1268.25) rotate(-90) scale(1.0,1)">Reads (cpm)</text>
<text transform="translate(611.80,1170.00) scale(1.007,1)" font-size="25.3" fill="#000">miRNA</text>
<rect x="614.00" y="1187.50" width="38" height="38" fill="#f2f2f2"/>
<line x1="616.50" y1="1206.50" x2="649.50" y2="1206.50" stroke="#1f77b4" stroke-width="4"/>
<rect x="631.50" y="1203.60" width="3.0" height="5.8" fill="none" stroke="#1f77b4" stroke-width="1.9"/>
<text transform="translate(663.60,1213.90) scale(1.007,1)" font-size="20.7" fill="#000">miR−148a−3p</text>
<rect x="614.00" y="1227.60" width="38" height="38" fill="#f2f2f2"/>
<line x1="616.50" y1="1246.60" x2="649.50" y2="1246.60" stroke="#ff7f0e" stroke-width="4"/>
<rect x="631.50" y="1243.70" width="3.0" height="5.8" fill="none" stroke="#ff7f0e" stroke-width="1.9"/>
<text transform="translate(663.60,1254.00) scale(1.007,1)" font-size="20.7" fill="#000">miR−99b−5p</text>
<rect x="614.00" y="1267.70" width="38" height="38" fill="#f2f2f2"/>
<line x1="616.50" y1="1286.70" x2="649.50" y2="1286.70" stroke="#2ca02c" stroke-width="4"/>
<rect x="631.50" y="1283.80" width="3.0" height="5.8" fill="none" stroke="#2ca02c" stroke-width="1.9"/>
<text transform="translate(663.60,1294.10) scale(1.007,1)" font-size="20.7" fill="#000">miR−27b−3p</text>
<rect x="614.00" y="1307.80" width="38" height="38" fill="#f2f2f2"/>
<line x1="616.50" y1="1326.80" x2="649.50" y2="1326.80" stroke="#d62728" stroke-width="4"/>
<rect x="631.50" y="1323.90" width="3.0" height="5.8" fill="none" stroke="#d62728" stroke-width="1.9"/>
<text transform="translate(663.60,1334.20) scale(1.007,1)" font-size="20.7" fill="#000">miR−125a−5p</text>
<rect x="614.00" y="1347.90" width="38" height="38" fill="#f2f2f2"/>
<line x1="616.50" y1="1366.90" x2="649.50" y2="1366.90" stroke="#9467bd" stroke-width="4"/>
<rect x="631.50" y="1364.00" width="3.0" height="5.8" fill="none" stroke="#9467bd" stroke-width="1.9"/>
<text transform="translate(663.60,1374.30) scale(1.007,1)" font-size="20.7" fill="#000">miR−146b−5p</text>
<text transform="translate(842.60,1018.00) scale(0.95,1)" font-size="57" font-weight="bold" fill="#000">F</text>
<text transform="translate(1177.00,1042.50) scale(1.03,1)" font-size="30" text-anchor="middle" fill="#000">Hyp miRNAs</text>
<text transform="translate(1052.00,1091.00) scale(1.03,1)" font-size="20" text-anchor="middle" fill="#1a1a1a">Hues1</text>
<line x1="928.00" y1="1119.50" x2="935.00" y2="1119.50" stroke="#222" stroke-width="2.2"/>
<text transform="translate(922.50,1126.80) scale(1.03,1)" font-size="20.8" text-anchor="end" fill="#4d4d4d">50000</text>
<line x1="928.00" y1="1181.50" x2="935.00" y2="1181.50" stroke="#222" stroke-width="2.2"/>
<text transform="translate(922.50,1188.80) scale(1.03,1)" font-size="20.8" text-anchor="end" fill="#4d4d4d">40000</text>
<line x1="928.00" y1="1243.50" x2="935.00" y2="1243.50" stroke="#222" stroke-width="2.2"/>
<text transform="translate(922.50,1250.80) scale(1.03,1)" font-size="20.8" text-anchor="end" fill="#4d4d4d">30000</text>
<line x1="928.00" y1="1305.00" x2="935.00" y2="1305.00" stroke="#222" stroke-width="2.2"/>
<text transform="translate(922.50,1312.30) scale(1.03,1)" font-size="20.8" text-anchor="end" fill="#4d4d4d">20000</text>
<line x1="928.00" y1="1367.00" x2="935.00" y2="1367.00" stroke="#222" stroke-width="2.2"/>
<text transform="translate(922.50,1374.30) scale(1.03,1)" font-size="20.8" text-anchor="end" fill="#4d4d4d">10000</text>
<line x1="928.00" y1="1428.50" x2="935.00" y2="1428.50" stroke="#222" stroke-width="2.2"/>
<text transform="translate(922.50,1435.80) scale(1.03,1)" font-size="20.8" text-anchor="end" fill="#4d4d4d">0</text>
<line x1="978.50" y1="1444.00" x2="978.50" y2="1451.00" stroke="#222" stroke-width="2.2"/>
<text transform="translate(978.50,1472.50) scale(1.03,1)" font-size="20.8" text-anchor="middle" fill="#4d4d4d">0</text>
<line x1="1052.00" y1="1444.00" x2="1052.00" y2="1451.00" stroke="#222" stroke-width="2.2"/>
<text transform="translate(1052.00,1472.50) scale(1.03,1)" font-size="20.8" text-anchor="middle" fill="#4d4d4d">2</text>
<line x1="1125.50" y1="1444.00" x2="1125.50" y2="1451.00" stroke="#222" stroke-width="2.2"/>
<text transform="translate(1125.50,1472.50) scale(1.03,1)" font-size="20.8" text-anchor="middle" fill="#4d4d4d">3</text>
<g fill="none" stroke-width="3.6" stroke-linejoin="round">
<polyline points="978.50,1400.01 1052.00,1397.48 1125.50,1392.47" stroke="#1f77b4"/>
<rect x="977.00" y="1397.21" width="3.0" height="5.6" stroke="#1f77b4" stroke-width="1.9"/>
<rect x="1050.50" y="1394.68" width="3.0" height="5.6" stroke="#1f77b4" stroke-width="1.9"/>
<rect x="1124.00" y="1389.67" width="3.0" height="5.6" stroke="#1f77b4" stroke-width="1.9"/>
<polyline points="978.50,1397.48 1052.00,1389.01 1125.50,1405.02" stroke="#ff7f0e"/>
<rect x="977.00" y="1394.68" width="3.0" height="5.6" stroke="#ff7f0e" stroke-width="1.9"/>
<rect x="1050.50" y="1386.21" width="3.0" height="5.6" stroke="#ff7f0e" stroke-width="1.9"/>
<rect x="1124.00" y="1402.22" width="3.0" height="5.6" stroke="#ff7f0e" stroke-width="1.9"/>
<polyline points="978.50,1417.50 1052.00,1415.52 1125.50,1423.99" stroke="#2ca02c"/>
<rect x="977.00" y="1414.70" width="3.0" height="5.6" stroke="#2ca02c" stroke-width="1.9"/>
<rect x="1050.50" y="1412.72" width="3.0" height="5.6" stroke="#2ca02c" stroke-width="1.9"/>
<rect x="1124.00" y="1421.19" width="3.0" height="5.6" stroke="#2ca02c" stroke-width="1.9"/>
<polyline points="978.50,1421.52 1052.00,1422.01 1125.50,1424.98" stroke="#d62728"/>
<rect x="977.00" y="1418.72" width="3.0" height="5.6" stroke="#d62728" stroke-width="1.9"/>
<rect x="1050.50" y="1419.21" width="3.0" height="5.6" stroke="#d62728" stroke-width="1.9"/>
<rect x="1124.00" y="1422.18" width="3.0" height="5.6" stroke="#d62728" stroke-width="1.9"/>
<polyline points="978.50,1422.01 1052.00,1422.51 1125.50,1428.50" stroke="#9467bd"/>
<rect x="977.00" y="1419.21" width="3.0" height="5.6" stroke="#9467bd" stroke-width="1.9"/>
<rect x="1050.50" y="1419.71" width="3.0" height="5.6" stroke="#9467bd" stroke-width="1.9"/>
<rect x="1124.00" y="1425.70" width="3.0" height="5.6" stroke="#9467bd" stroke-width="1.9"/>
</g>
<rect x="935.00" y="1104.00" width="236.00" height="340.00" fill="none" stroke="#000" stroke-width="1.75"/>
<path d="M1171.00,1103.10 V1444.00 H934.10" fill="none" stroke="#000" stroke-width="2.4"/>
<text transform="translate(1301.00,1091.00) scale(1.03,1)" font-size="20" text-anchor="middle" fill="#1a1a1a">Man7</text>
<line x1="1227.50" y1="1444.00" x2="1227.50" y2="1451.00" stroke="#222" stroke-width="2.2"/>
<text transform="translate(1227.50,1472.50) scale(1.03,1)" font-size="20.8" text-anchor="middle" fill="#4d4d4d">0</text>
<line x1="1301.50" y1="1444.00" x2="1301.50" y2="1451.00" stroke="#222" stroke-width="2.2"/>
<text transform="translate(1301.50,1472.50) scale(1.03,1)" font-size="20.8" text-anchor="middle" fill="#4d4d4d">2</text>
<line x1="1375.00" y1="1444.00" x2="1375.00" y2="1451.00" stroke="#222" stroke-width="2.2"/>
<text transform="translate(1375.00,1472.50) scale(1.03,1)" font-size="20.8" text-anchor="middle" fill="#4d4d4d">3</text>
<g fill="none" stroke-width="3.6" stroke-linejoin="round">
<polyline points="1227.50,1406.50 1301.50,1345.01 1375.00,1336.48" stroke="#1f77b4"/>
<rect x="1226.00" y="1403.70" width="3.0" height="5.6" stroke="#1f77b4" stroke-width="1.9"/>
<rect x="1300.00" y="1342.21" width="3.0" height="5.6" stroke="#1f77b4" stroke-width="1.9"/>
<rect x="1373.50" y="1333.68" width="3.0" height="5.6" stroke="#1f77b4" stroke-width="1.9"/>
<polyline points="1227.50,1386.48 1301.50,1382.03 1375.00,1393.52" stroke="#ff7f0e"/>
<rect x="1226.00" y="1383.68" width="3.0" height="5.6" stroke="#ff7f0e" stroke-width="1.9"/>
<rect x="1300.00" y="1379.23" width="3.0" height="5.6" stroke="#ff7f0e" stroke-width="1.9"/>
<rect x="1373.50" y="1390.72" width="3.0" height="5.6" stroke="#ff7f0e" stroke-width="1.9"/>
<polyline points="1227.50,1410.52 1301.50,1415.52 1375.00,1413.98" stroke="#2ca02c"/>
<rect x="1226.00" y="1407.72" width="3.0" height="5.6" stroke="#2ca02c" stroke-width="1.9"/>
<rect x="1300.00" y="1412.72" width="3.0" height="5.6" stroke="#2ca02c" stroke-width="1.9"/>
<rect x="1373.50" y="1411.18" width="3.0" height="5.6" stroke="#2ca02c" stroke-width="1.9"/>
<polyline points="1227.50,1417.01 1301.50,1419.48 1375.00,1419.48" stroke="#d62728"/>
<rect x="1226.00" y="1414.21" width="3.0" height="5.6" stroke="#d62728" stroke-width="1.9"/>
<rect x="1300.00" y="1416.68" width="3.0" height="5.6" stroke="#d62728" stroke-width="1.9"/>
<rect x="1373.50" y="1416.68" width="3.0" height="5.6" stroke="#d62728" stroke-width="1.9"/>
<polyline points="1227.50,1428.50 1301.50,1402.98 1375.00,1428.50" stroke="#9467bd"/>
<rect x="1226.00" y="1425.70" width="3.0" height="5.6" stroke="#9467bd" stroke-width="1.9"/>
<rect x="1300.00" y="1400.18" width="3.0" height="5.6" stroke="#9467bd" stroke-width="1.9"/>
<rect x="1373.50" y="1425.70" width="3.0" height="5.6" stroke="#9467bd" stroke-width="1.9"/>
</g>
<rect x="1184.00" y="1104.00" width="236.00" height="340.00" fill="none" stroke="#000" stroke-width="1.75"/>
<path d="M1420.00,1103.10 V1444.00 H1183.10" fill="none" stroke="#000" stroke-width="2.4"/>
<text transform="translate(1177.50,1502.00) scale(1.03,1)" font-size="25.5" text-anchor="middle" fill="#000">Stage</text>
<text x="0" y="0" font-size="26.6" text-anchor="middle" transform="translate(851.80,1274.00) rotate(-90) scale(1.0,1)">Reads (cpm)</text>
<text transform="translate(1457.80,1174.00) scale(1.03,1)" font-size="25.3" fill="#000">miRNA</text>
<rect x="1460.00" y="1192.00" width="38" height="38" fill="#f2f2f2"/>
<line x1="1462.50" y1="1211.00" x2="1495.50" y2="1211.00" stroke="#1f77b4" stroke-width="4"/>
<rect x="1477.50" y="1208.10" width="3.0" height="5.8" fill="none" stroke="#1f77b4" stroke-width="1.9"/>
<text transform="translate(1511.60,1218.40) scale(1.03,1)" font-size="20.7" fill="#000">miR−181a−5p</text>
<rect x="1460.00" y="1233.00" width="38" height="38" fill="#f2f2f2"/>
<line x1="1462.50" y1="1252.00" x2="1495.50" y2="1252.00" stroke="#ff7f0e" stroke-width="4"/>
<rect x="1477.50" y="1249.10" width="3.0" height="5.8" fill="none" stroke="#ff7f0e" stroke-width="1.9"/>
<text transform="translate(1511.60,1259.40) scale(1.03,1)" font-size="20.7" fill="#000">miR−222−3p</text>
<rect x="1460.00" y="1274.00" width="38" height="38" fill="#f2f2f2"/>
<line x1="1462.50" y1="1293.00" x2="1495.50" y2="1293.00" stroke="#2ca02c" stroke-width="4"/>
<rect x="1477.50" y="1290.10" width="3.0" height="5.8" fill="none" stroke="#2ca02c" stroke-width="1.9"/>
<text transform="translate(1511.60,1300.40) scale(1.03,1)" font-size="20.7" fill="#000">miR−20a−5p</text>
<rect x="1460.00" y="1315.00" width="38" height="38" fill="#f2f2f2"/>
<line x1="1462.50" y1="1334.00" x2="1495.50" y2="1334.00" stroke="#d62728" stroke-width="4"/>
<rect x="1477.50" y="1331.10" width="3.0" height="5.8" fill="none" stroke="#d62728" stroke-width="1.9"/>
<text transform="translate(1511.60,1341.40) scale(1.03,1)" font-size="20.7" fill="#000">miR−17−5p</text>
<rect x="1460.00" y="1356.00" width="38" height="38" fill="#f2f2f2"/>
<line x1="1462.50" y1="1375.00" x2="1495.50" y2="1375.00" stroke="#9467bd" stroke-width="4"/>
<rect x="1477.50" y="1372.10" width="3.0" height="5.8" fill="none" stroke="#9467bd" stroke-width="1.9"/>
<text transform="translate(1511.60,1382.40) scale(1.03,1)" font-size="20.7" fill="#000">miR−127−3p</text>
<text x="289.40" y="1579.00" font-size="57" font-weight="bold" fill="#000">G</text>
<rect x="347" y="2050" width="924" height="11" fill="#f2f2f4"/>
<polygon points="418.8,1928 832.1,1800 1246,1928" fill="#46abfa"/>
<polygon points="839.4,1796 1259.6,1796 1259.6,1926" fill="#21497f"/>
<rect x="354.5" y="1934.8" width="905.1" height="115.5" fill="#e16c22"/>
<polygon points="354.5,1938.5 1256,2050.3 354.5,2050.3" fill="#c0504d"/>
<line x1="354.5" y1="1935.5" x2="1258" y2="2048.5" stroke="#fff" stroke-width="4"/>
<ellipse cx="494.5" cy="1664.8" rx="95.2" ry="77.8" fill="#c0504d"/>
<line x1="589" y1="1665.6" x2="740" y2="1665.6" stroke="#e16c22" stroke-width="6.3"/>
<polyline points="714,1651 740.5,1665.6 714,1680" fill="none" stroke="#e16c22" stroke-width="7"/>
<line x1="743" y1="1665.6" x2="880" y2="1665.6" stroke="#77933c" stroke-width="6.3"/>
<polyline points="856,1651 881.5,1665.6 856,1680" fill="none" stroke="#77933c" stroke-width="7"/>
<line x1="884" y1="1665.6" x2="950" y2="1665.6" stroke="#254d8f" stroke-width="6.3"/>
<polyline points="926,1651 951.5,1665.6 926,1680" fill="none" stroke="#254d8f" stroke-width="7"/>
<line x1="590.4" y1="1677.2" x2="590.4" y2="1724" stroke="#000" stroke-width="4.5"/>
<polygon points="582.9,1681.7 590.4,1667.2 597.9,1681.7" fill="#000"/>
<line x1="743.5" y1="1674.1" x2="743.5" y2="1721.8" stroke="#000" stroke-width="4.5"/>
<polygon points="736.0,1678.6 743.5,1664.1 751.0,1678.6" fill="#000"/>
<line x1="884.5" y1="1674.1" x2="884.5" y2="1721.8" stroke="#000" stroke-width="4.5"/>
<polygon points="877.0,1678.6 884.5,1664.1 892.0,1678.6" fill="#000"/>
<clipPath id="cutL"><polygon points="900,1580 1025.8,1580 1106,1785 900,1785"/></clipPath>
<ellipse cx="1035" cy="1683" rx="70" ry="77" fill="#d0986a" clip-path="url(#cutL)"/>
<ellipse cx="1163" cy="1667" rx="76.5" ry="81" fill="#d0986a"/>
<polygon points="1076.1,1600 1140,1589.9 1163,1667 1097,1707" fill="#d0986a"/>
<text transform="translate(430.90,1561.80) scale(1,1.12)" font-size="38.1" font-weight="bold" fill="#c0504d" stroke="#c0504d" stroke-width="0.9">Stage 0</text>
<text transform="translate(591.00,1596.00) scale(1,1.12)" font-size="37.2" font-weight="bold" fill="#e16c22" stroke="#e16c22" stroke-width="0.9">Stage 1</text>
<text transform="translate(756.00,1596.00) scale(1,1.12)" font-size="38.9" font-weight="bold" fill="#77933c" stroke="#77933c" stroke-width="0.9">Stage 2</text>
<text transform="translate(945.20,1562.00) scale(1,1.12)" font-size="38.3" font-weight="bold" fill="#40669f" stroke="#40669f" stroke-width="0.9">Stage 3</text>
<text transform="translate(494.80,1677.20) scale(1,1.1)" font-size="28.2" font-weight="bold" text-anchor="middle" fill="#fff" stroke="#fff" stroke-width="0.6">hESCs</text>
<text transform="translate(1103.80,1675.00) scale(1,1.0)" font-size="28.6" font-weight="bold" text-anchor="middle" fill="#000">Chondroprogenitor</text>
<text transform="translate(590.50,1756.00) scale(1,1.06)" font-size="27.5" text-anchor="middle" fill="#000">Day 0</text>
<text transform="translate(745.00,1751.00) scale(1,1.06)" font-size="27.5" text-anchor="middle" fill="#000">Day 4</text>
<text transform="translate(892.00,1756.00) scale(1,1.06)" font-size="27.8" text-anchor="middle" fill="#000">Day 9</text>
<text transform="translate(1101.80,1789.00) scale(1,1.06)" font-size="27.8" text-anchor="middle" fill="#000">Day 14</text>
<text x="831.30" y="1846.30" font-size="25.1" font-weight="bold" text-anchor="middle" fill="#fff">Cartilage</text>
<text x="831.80" y="1875.00" font-size="25.2" font-weight="bold" text-anchor="middle" fill="#fff">Development</text>
<text x="831.50" y="1905.00" font-size="24.8" text-anchor="middle" fill="#fff">(SOX9, MSX1, DLX2)</text>
<text transform="translate(1119.30,1829.30) scale(1.08,1)" font-size="24.8" font-weight="bold" text-anchor="middle" fill="#fff">ECM</text>
<text x="1255.00" y="1859.20" font-size="25.3" text-anchor="end" fill="#fff">(FN1, COL3A1,</text>
<text x="1255.00" y="1888.40" font-size="25.2" text-anchor="end" fill="#fff">FBN1)</text>
<text x="895.00" y="1989.00" font-size="24.5" font-weight="bold" fill="#fff">Hox</text>
<text x="950.00" y="1989.50" font-size="25.35" fill="#fff">(HOXD9/10/11, miR-10a/b)</text>
<text x="362.50" y="1976.30" font-size="24.6" font-weight="bold" fill="#fff">Stem</text>
<text x="402" y="2006.3" font-size="24.6" fill="#fff"><tspan font-weight="bold">Cell</tspan> (OCT4, TDGF1,</text>
<text x="485.00" y="2036.30" font-size="25.15" fill="#fff">NANOG, miR-302, CM19C)</text>
</svg></body></html>
